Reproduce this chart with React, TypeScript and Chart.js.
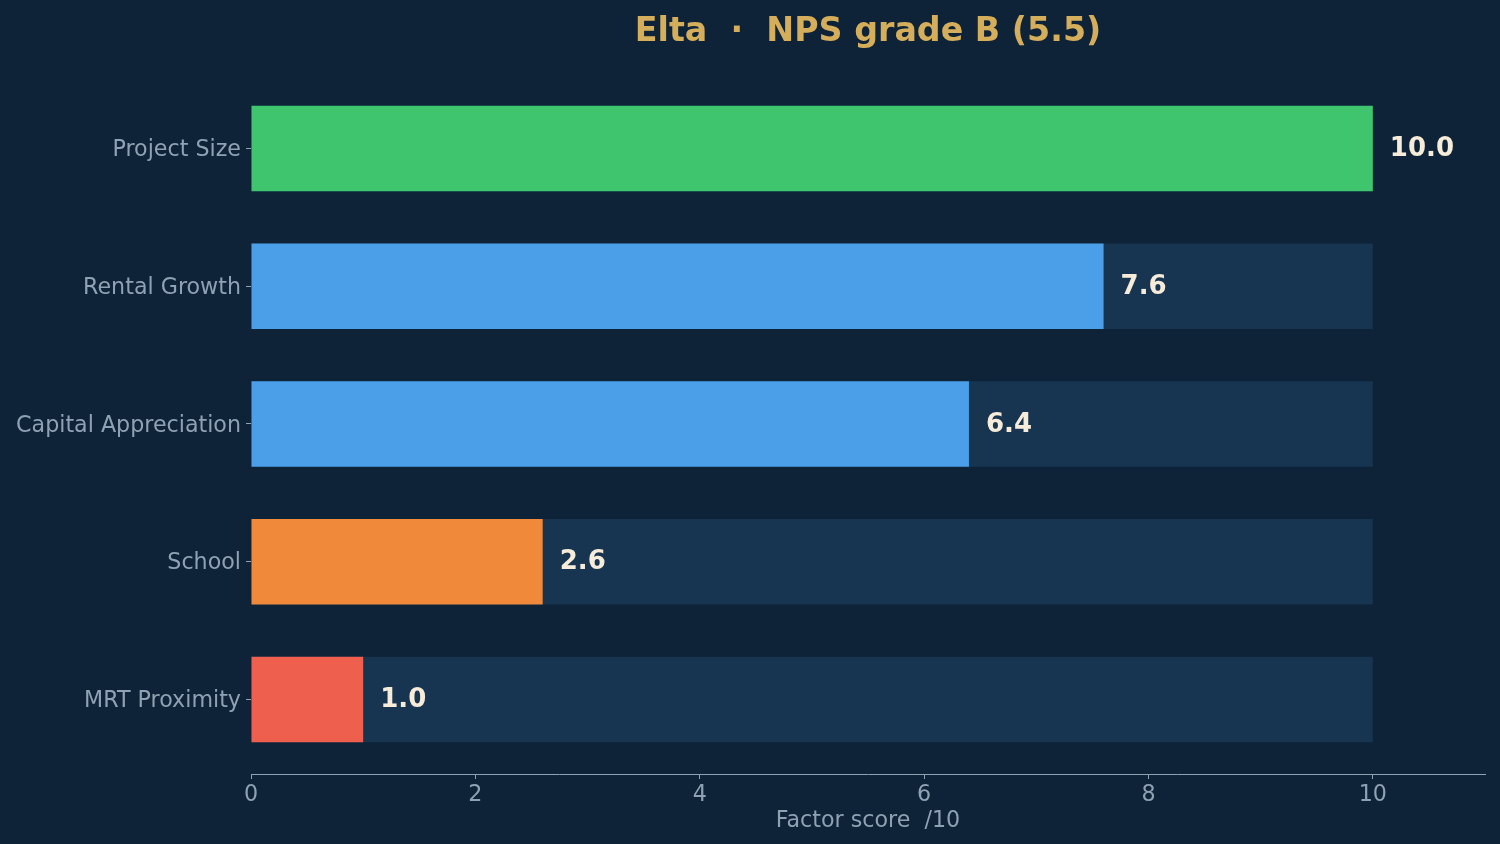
import React, { useEffect, useRef } from "react";
import { Chart, registerables } from "chart.js";

Chart.register(...registerables);

const categories = ["Project Size", "Rental Growth", "Capital Appreciation", "School", "MRT Proximity"];
const scores = [10.0, 7.6, 6.4, 2.6, 1.0];
const trackValues = [10, 10, 10, 10, 10];
const barColors = ["#3fc56e", "#4a9fe8", "#4a9fe8", "#f0893a", "#ee5f4e"];
const xTickValues = [0, 2, 4, 6, 8, 10];
const titleText = "Elta  \u00b7  NPS grade B (5.5)";
const xTitle = "Factor score  /10";

const BG = "#0e2337";
const TRACK = "#173450";
const GRAY = "#8fa2b3";
const CREAM = "#f7ecda";
const GOLD = "#d5ae5c";
const FONT = "'DejaVu Sans', sans-serif";

export default function App() {
  const ref = useRef<HTMLCanvasElement | null>(null);

  useEffect(() => {
    document.body.style.margin = "0";
    document.body.style.background = BG;
    const canvas = ref.current;
    if (!canvas) return;

    const labelPlugin = {
      id: "valueLabels",
      afterDatasetsDraw(chart: any) {
        const meta = chart.getDatasetMeta(0);
        const ctx = chart.ctx;
        ctx.save();
        ctx.font = `bold 26px ${FONT}`;
        ctx.fillStyle = CREAM;
        ctx.textAlign = "left";
        ctx.textBaseline = "middle";
        meta.data.forEach((el: any, i: number) => {
          ctx.fillText(scores[i].toFixed(1), el.x + 17, el.y + 1);
        });
        ctx.restore();
      },
    };

    const titlePlugin = {
      id: "centeredTitle",
      afterDraw(chart: any) {
        const { ctx, chartArea } = chart;
        ctx.save();
        ctx.font = `bold 33.3px ${FONT}`;
        ctx.fillStyle = GOLD;
        ctx.textAlign = "center";
        ctx.textBaseline = "middle";
        ctx.fillText(titleText, (chartArea.left + chartArea.right) / 2, 32.5);
        ctx.restore();
      },
    };

    const chart = new Chart(canvas, {
      type: "bar",
      data: {
        datasets: [
          {
            label: "score",
            data: scores.map((v, i) => ({ x: v, y: i })),
            backgroundColor: barColors,
            grouped: false,
            categoryPercentage: 1,
            barPercentage: 0.62,
            borderWidth: 0,
          } as any,
          {
            label: "track",
            data: trackValues.map((v, i) => ({ x: v, y: i })),
            backgroundColor: TRACK,
            grouped: false,
            categoryPercentage: 1,
            barPercentage: 0.62,
            borderWidth: 0,
          } as any,
        ],
      },
      options: {
        indexAxis: "y",
        responsive: false,
        animation: false,
        layout: { padding: { left: 0, right: 15, top: 74, bottom: 0 } },
        plugins: {
          legend: { display: false },
          tooltip: { enabled: false },
          title: { display: false },
        },
        scales: {
          x: {
            type: "linear",
            min: 0,
            max: 11,
            offset: false,
            afterBuildTicks: (axis: any) => {
              axis.ticks = xTickValues.map((v) => ({ value: v }));
            },
            afterFit: (scale: any) => {
              scale.height = 70;
            },
            ticks: {
              color: GRAY,
              font: { family: FONT, size: 22.2 },
              padding: 3,
              maxRotation: 0,
            },
            grid: {
              drawOnChartArea: false,
              drawTicks: true,
              tickLength: 5,
              color: GRAY,
              offset: false,
            },
            border: { display: true, color: GRAY, width: 1 },
            title: {
              display: true,
              text: xTitle,
              color: GRAY,
              font: { family: FONT, size: 22.2 },
              padding: { top: 0, bottom: 9 },
            },
          },
          y: {
            type: "linear",
            reverse: true,
            offset: false,
            min: -0.541,
            max: categories.length - 1 + 0.541,
            afterBuildTicks: (axis: any) => {
              axis.ticks = categories.map((_, i) => ({ value: i }));
            },
            afterFit: (scale: any) => {
              scale.width = 251;
            },
            ticks: {
              color: GRAY,
              font: { family: FONT, size: 22.2 },
              padding: 5,
              labelOffset: 2,
              callback: (v: any) => categories[v] ?? "",
            },
            grid: {
              drawOnChartArea: false,
              drawTicks: true,
              tickLength: 5,
              color: GRAY,
              offset: false,
            },
            border: { display: false },
          },
        },
      },
      plugins: [labelPlugin, titlePlugin],
    } as any);

    return () => chart.destroy();
  }, []);

  return (
    <div style={{ position: "absolute", left: 0, top: 0, width: 1500, height: 844, background: BG }}>
      <canvas ref={ref} width={1500} height={844} style={{ display: "block" }} />
    </div>
  );
}
